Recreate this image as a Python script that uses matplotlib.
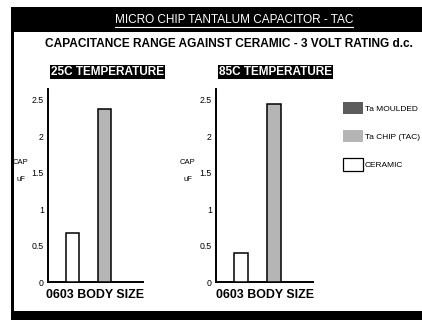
import matplotlib
matplotlib.use("Agg")
import matplotlib.pyplot as plt
from matplotlib.patches import Patch, Rectangle
from matplotlib.lines import Line2D

plt.rcParams["font.family"] = ["Liberation Sans", "DejaVu Sans"]

# values (capacitance in uF, 0603 body size)
panels = ["25C TEMPERATURE", "85C TEMPERATURE"]
ceramic_cap = [0.67, 0.40]
tac_cap = [2.38, 2.45]
yticks = [0, 0.5, 1, 1.5, 2, 2.5]
ytick_labels = ["0", "0.5", "1", "1.5", "2", "2.5"]
legend_labels = ["Ta MOULDED", "Ta CHIP (TAC)", "CERAMIC"]

W, H = 422, 320
COL_MOULDED = "#5c5c5c"
COL_CHIP = "#b5b5b5"


def fx(px):
    return px / W


def fy(py):
    return 1 - py / H


fig = plt.figure(figsize=(W / 100, H / 100), dpi=100)
fig.patch.set_facecolor("white")

# frame: black header band, left rule, bottom band
fig.add_artist(Rectangle((fx(11), fy(32)), fx(W - 11), 25 / H, transform=fig.transFigure,
                         facecolor="black", edgecolor="none"))
fig.add_artist(Rectangle((fx(11), 0), fx(3), fy(7), transform=fig.transFigure,
                         facecolor="black", edgecolor="none"))
fig.add_artist(Rectangle((fx(11), 0), fx(W - 11), 9 / H, transform=fig.transFigure,
                         facecolor="black", edgecolor="none"))

title = fig.text(fx(234), fy(20), "MICRO CHIP TANTALUM CAPACITOR - TAC", color="white",
                 fontsize=8.5, ha="center", va="center")
fig.text(fx(229), fy(44), "CAPACITANCE RANGE AGAINST CERAMIC - 3 VOLT RATING d.c.",
         fontsize=8.6, fontweight="bold", ha="center", va="center")

# axes boxes in pixels: (left, top, right, bottom)
boxes = [(48, 89, 143, 282), (216, 89, 313, 282)]

for i, (l, t, r, b) in enumerate(boxes):
    ax = fig.add_axes([fx(l), fy(b), fx(r - l), (b - t) / H])
    ax.bar([0, 1], [ceramic_cap[i], tac_cap[i]], width=0.42,
           color=["white", COL_CHIP], edgecolor="black", linewidth=1.1, zorder=3)
    ax.set_xlim(-0.77, 2.2)
    ax.set_ylim(0, 2.65)
    ax.set_yticks(yticks)
    ax.set_yticklabels(ytick_labels)
    ax.set_xticks([])
    ax.tick_params(axis="y", length=0, pad=3, labelsize=6.3)
    for side in ("top", "right"):
        ax.spines[side].set_visible(False)
    for side in ("left", "bottom"):
        ax.spines[side].set_linewidth(1.4)
    ax.set_xlabel("0603 BODY SIZE", fontsize=8.9, fontweight="bold")
    ax.xaxis.set_label_coords(0.5, -0.035, transform=ax.transAxes)
    ax.xaxis.label.set_va("top")
    ax.text(-0.29, 0.62, "CAP", transform=ax.transAxes, fontsize=5.5,
            ha="center", va="center")
    ax.text(-0.29, 0.53, "uF", transform=ax.transAxes, fontsize=5.5,
            ha="center", va="center")
    fig.text(fx(l + 3), fy(72), panels[i], color="white", fontsize=8.5, fontweight="bold",
             ha="left", va="center",
             bbox=dict(boxstyle="square,pad=0.12", facecolor="black", edgecolor="none"))

handles = [Patch(facecolor=COL_MOULDED, edgecolor="none"),
           Patch(facecolor=COL_CHIP, edgecolor="none"),
           Patch(facecolor="white", edgecolor="black", linewidth=0.9)]
leg = fig.legend(handles, legend_labels, loc="upper left",
                 bbox_to_anchor=(fx(337), fy(96)), frameon=False,
                 prop={"size": 6},
                 handlelength=2.4, handleheight=1.9, labelspacing=1.9, handletextpad=0.25,
                 borderpad=0.2)

# underline the white title
fig.canvas.draw()
bb = title.get_window_extent().transformed(fig.transFigure.inverted())
fig.add_artist(Line2D([bb.x0, bb.x1], [bb.y0 - 0.003, bb.y0 - 0.003],
                      transform=fig.transFigure, color="white", linewidth=0.8))

fig.savefig("out.png", dpi=100)
